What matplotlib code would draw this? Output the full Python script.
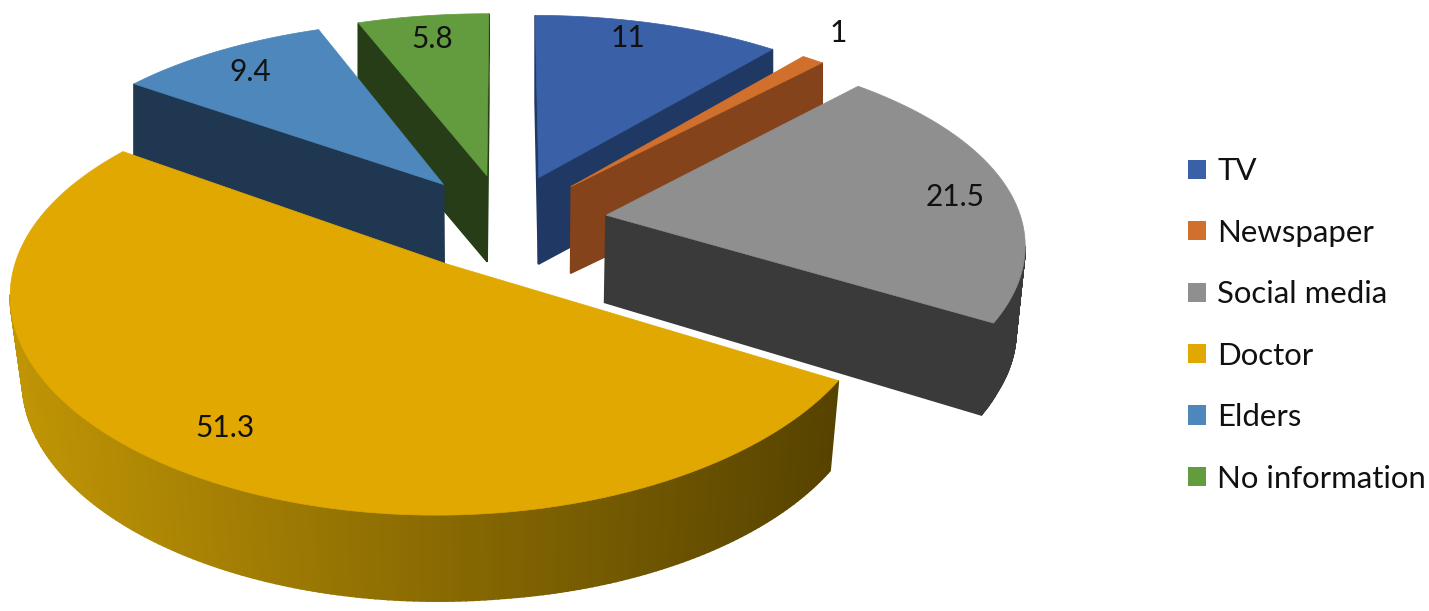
import numpy as np
import matplotlib
matplotlib.use('Agg')
import matplotlib.pyplot as plt
from matplotlib.patches import Patch, Polygon
from matplotlib.colors import to_rgb

# chart data
labels = ['TV', 'Newspaper', 'Social media', 'Doctor', 'Elders', 'No information']
values = [11, 1, 21.5, 51.3, 9.4, 5.8]

# colours of the top face and of the side walls
top_colors = ['#3a60a8', '#d0702c', '#8f8f8f', '#e0a800', '#4d87bb', '#629c3f']
wall_colors = ['#203864', '#84431b', '#3a3a3a', '#e0a800', '#1f3750', '#263d17']
doctor_wall_left = '#c09505'
doctor_wall_right = '#574300'

# where the value labels sit, in pixels
label_pos = [(628, 38), (838, 33), (955, 197), (225, 428), (250, 72), (432, 39)]

# projection of the pie plane on to the picture
x0, y0 = 505, 222
a, b = 419, 199
kx, ky, j = 0.125, 0.15, 0.005
explode = 0.245
depth = 86
draw_order = [5, 0, 4, 1, 2, 3]

plt.rcParams['font.family'] = ['Lato', 'DejaVu Sans']


def project(X, Y):
    return x0 + a * X / (1 + kx * Y + j * X), y0 - b * Y / (1 + ky * Y + j * X)


def drop(p):
    # foot of a wall, verticals lean inwards towards the front of the pie
    lean = 0.025 * np.clip((p[1] - 100) / 200, 0, 1)
    return p[0] + lean * (x0 - p[0]), p[1] + depth + 0.012 * max(p[0] - x0, 0)


def wall(ax, p, q, color):
    # a side face only shows if its edge runs leftwards on screen
    if q[0] >= p[0]:
        return
    pts = [p, q, drop(q), drop(p)]
    ax.add_patch(Polygon(pts, closed=True, facecolor=color, edgecolor=color, lw=1.2))


fig = plt.figure(figsize=(14.29, 6.11), dpi=100)
ax = fig.add_axes([0, 0, 1, 1])
ax.set_xlim(0, 1429)
ax.set_ylim(611, 0)
ax.axis('off')

edges = np.cumsum([0] + values) / sum(values) * 2 * np.pi

for i in draw_order:
    th = np.linspace(edges[i], edges[i + 1], 240)
    mid = (edges[i] + edges[i + 1]) / 2
    ox, oy = explode * np.sin(mid), explode * np.cos(mid)
    arc = [project(ox + np.sin(t), oy + np.cos(t)) for t in th]
    apex = project(ox, oy)
    loop = [apex] + arc + [apex]
    xs = [p[0] for p in arc]
    for n in range(len(loop) - 1):
        color = wall_colors[i]
        if labels[i] == 'Doctor':
            f = (loop[n][0] - min(xs)) / (max(xs) - min(xs))
            color = tuple((1 - f) * np.array(to_rgb(doctor_wall_left)) + f * np.array(to_rgb(doctor_wall_right)))
        wall(ax, loop[n], loop[n + 1], color)
    ax.add_patch(Polygon(loop, closed=True, facecolor=top_colors[i], edgecolor=top_colors[i], lw=0.5))

for v, (lx, ly) in zip(values, label_pos):
    ax.text(lx, ly, str(v), ha='center', va='center', fontsize=21.5, color='#111111')

handles = [Patch(facecolor=c, edgecolor='none') for c in top_colors]
ax.legend(handles, labels, loc='upper left', bbox_to_anchor=(1179 / 1429, 1 - 148 / 611), frameon=False,
          fontsize=22.4, labelspacing=1.075, handlelength=0.58, handleheight=0.58, handletextpad=0.35,
          borderpad=0.3, borderaxespad=0, labelcolor='#111111')

fig.savefig('out.png', dpi=100)
plt.close()
